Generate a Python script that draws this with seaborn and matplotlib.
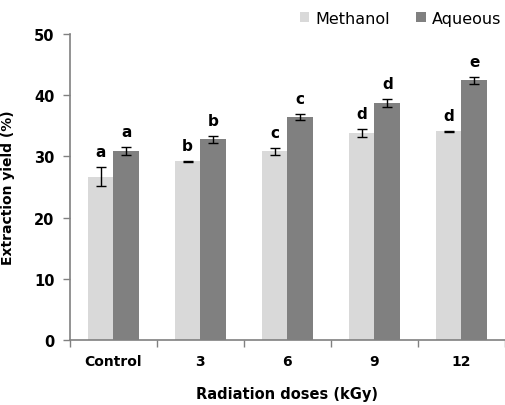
import numpy as np
import pandas as pd
import seaborn as sns
import matplotlib.pyplot as plt
from matplotlib.ticker import FixedLocator

doses = ["Control", "3", "6", "9", "12"]
solvents = ["Methanol", "Aqueous"]
methanol = [26.7, 29.2, 30.8, 33.8, 34.1]
aqueous = [30.9, 32.8, 36.4, 38.7, 42.4]
methanol_err = [1.5, 0.1, 0.6, 0.6, 0.1]
aqueous_err = [0.6, 0.6, 0.5, 0.6, 0.5]
methanol_letters = ["a", "b", "c", "d", "d"]
aqueous_letters = ["a", "b", "c", "d", "e"]

df = pd.DataFrame({
    "dose": doses * 2,
    "solvent": [solvents[0]] * 5 + [solvents[1]] * 5,
    "yield": methanol + aqueous,
})
errs = {solvents[0]: methanol_err, solvents[1]: aqueous_err}
letters = {solvents[0]: methanol_letters, solvents[1]: aqueous_letters}

sns.set_theme(style="white")
plt.rcParams["font.family"] = ["DejaVu Sans"]
plt.rcParams["text.color"] = "black"
plt.rcParams["xtick.color"] = "black"
plt.rcParams["ytick.color"] = "black"
plt.rcParams["axes.labelcolor"] = "black"

fig = plt.figure(figsize=(5.06, 4.06), dpi=100)
ax = fig.add_axes([0.138, 0.160, 0.860, 0.754])

palette = {"Methanol": "#d9d9d9", "Aqueous": "#808080"}
sns.barplot(data=df, x="dose", y="yield", hue="solvent", order=doses,
            hue_order=solvents, palette=palette, width=0.59, errorbar=None,
            saturation=1, linewidth=0, ax=ax, legend=True)

# error bars and significance letters on each bar
for container, solvent in zip(ax.containers, solvents):
    for i, bar in enumerate(container):
        cx = bar.get_x() + bar.get_width() / 2
        h = bar.get_height()
        e = errs[solvent][i]
        ax.errorbar(cx, h, yerr=e, fmt="none", ecolor="black",
                    elinewidth=1, capsize=3.5, capthick=1)
        ax.text(cx, h + e + 1.3, letters[solvent][i], ha="center",
                va="bottom", fontsize=11, fontweight="bold", color="black")

ax.set_ylim(0, 50)
ax.set_xlim(-0.5, 4.5)
ax.set_yticks([0, 10, 20, 30, 40, 50])
ax.xaxis.set_minor_locator(FixedLocator(np.arange(-0.5, 5.0, 1.0)))
ax.tick_params(axis="x", which="major", length=0, pad=10, labelsize=10)
ax.tick_params(axis="x", which="minor", length=5, width=1, color="#808080",
               direction="out", bottom=True)
ax.tick_params(axis="y", length=5, width=1, color="#808080", direction="out",
               left=True, labelsize=10.5, pad=6, labelcolor="black")
ax.tick_params(axis="x", labelcolor="black")
for lab in ax.get_xticklabels() + ax.get_yticklabels():
    lab.set_fontweight("bold")

for side in ["top", "right"]:
    ax.spines[side].set_visible(False)
for side in ["left", "bottom"]:
    ax.spines[side].set_color("#808080")
    ax.spines[side].set_linewidth(1.2)

ax.set_xlabel("Radiation doses (kGy)", fontsize=10.5, fontweight="bold",
              labelpad=13)
ax.set_ylabel("Extraction yield (%)", fontsize=10, fontweight="bold",
              labelpad=14)

leg = ax.legend(title=None, loc="lower right", bbox_to_anchor=(1.01, 1.0),
                ncol=2, frameon=False, fontsize=11.5, handlelength=0.6,
                handleheight=0.6, handletextpad=0.4, columnspacing=1.6,
                borderaxespad=0.1)
for t in leg.get_texts():
    t.set_color("black")

fig.savefig("out.png", dpi=100)
